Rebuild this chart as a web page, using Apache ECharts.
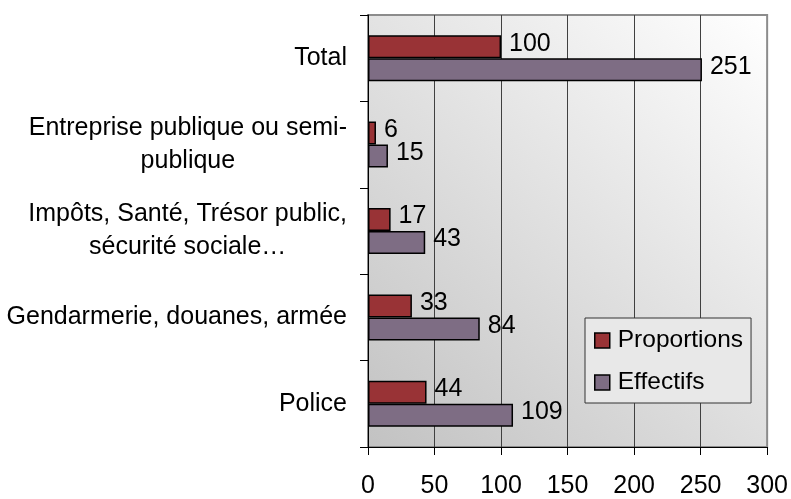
<!DOCTYPE html>
<html>
<head>
<meta charset="utf-8">
<script src="https://cdn.jsdelivr.net/npm/echarts@6/dist/echarts.min.js"></script>
<style>
html,body{margin:0;padding:0;background:#fff;}
#chart{width:791px;height:499px;}
</style>
</head>
<body>
<div id="chart"></div>
<script>
const categories = ['Police', 'Gendarmerie, douanes, armée', 'Impôts, Santé, Trésor public,\nsécurité sociale…', 'Entreprise publique ou semi-\npublique', 'Total'];
const seriesNames = ['Proportions', 'Effectifs'];
const proportions = [44, 33, 17, 6, 100];
const effectifs = [109, 84, 43, 15, 251];
const xTicks = [0, 50, 100, 150, 200, 250, 300];

const FONT = '"Liberation Sans", Arial, sans-serif';
const FS = 25;

const chart = echarts.init(document.getElementById('chart'), null, {renderer: 'canvas'});

const labelCfg = {
  show: true,
  position: 'right',
  distance: 8,
  offset: [0, -3],
  color: '#000',
  fontFamily: FONT,
  fontSize: FS
};

chart.setOption({
  animation: false,
  backgroundColor: '#fff',
  textStyle: {fontFamily: FONT},
  grid: {
    left: 368, right: 22, top: 15, bottom: 51,
    show: true,
    borderColor: '#8c8c8c',
    borderWidth: 2,
    backgroundColor: new echarts.graphic.LinearGradient(0, 1, 1, 0, [
      {offset: 0, color: '#c2c2c2'},
      {offset: 1, color: '#ffffff'}
    ])
  },
  legend: {
    orient: 'vertical',
    left: 585,
    top: 318,
    data: seriesNames,
    icon: 'rect',
    itemWidth: 15,
    itemHeight: 15,
    itemGap: 17,
    padding: [10, 8, 8, 9],
    backgroundColor: '#e8e8e8',
    borderColor: '#333',
    borderWidth: 1,
    borderRadius: 0,
    itemStyle: {borderColor: '#000', borderWidth: 1.5},
    textStyle: {fontFamily: FONT, fontSize: 24.5, color: '#000', lineHeight: 25, padding: [0, 0, 0, 3]}
  },
  xAxis: {
    type: 'value',
    min: xTicks[0],
    max: xTicks[xTicks.length - 1],
    interval: xTicks[1] - xTicks[0],
    axisLine: {show: true, onZero: false, lineStyle: {color: '#000', width: 1}},
    axisTick: {show: true, length: 8, lineStyle: {color: '#000'}},
    axisLabel: {color: '#000', fontFamily: FONT, fontSize: FS, margin: 27},
    splitLine: {show: true, showMinLine: false, showMaxLine: false, lineStyle: {color: '#404040', width: 1}}
  },
  yAxis: {
    type: 'category',
    data: categories,
    axisLine: {show: true, lineStyle: {color: '#000', width: 1}},
    axisTick: {show: true, length: 8, alignWithLabel: false, lineStyle: {color: '#000'}},
    splitLine: {show: false},
    axisLabel: {
      margin: 21,
      color: '#000',
      fontFamily: FONT,
      fontSize: FS,
      formatter: function (v) {
        return v.split('\n').map(function (s) { return '{c|' + s + '}'; }).join('\n');
      },
      rich: {
        c: {align: 'center', fontFamily: FONT, fontSize: FS, lineHeight: 33, color: '#000'}
      }
    }
  },
  series: [
    {
      name: seriesNames[0],
      type: 'bar',
      data: proportions,
      barWidth: 23,
      barGap: '0%',
      itemStyle: {color: '#993336', borderColor: '#000', borderWidth: 1.5},
      label: labelCfg
    },
    {
      name: seriesNames[1],
      type: 'bar',
      data: effectifs,
      barWidth: 23,
      barGap: '0%',
      itemStyle: {color: '#7e6d84', borderColor: '#000', borderWidth: 1.5},
      label: labelCfg
    }
  ]
});
</script>
</body>
</html>
